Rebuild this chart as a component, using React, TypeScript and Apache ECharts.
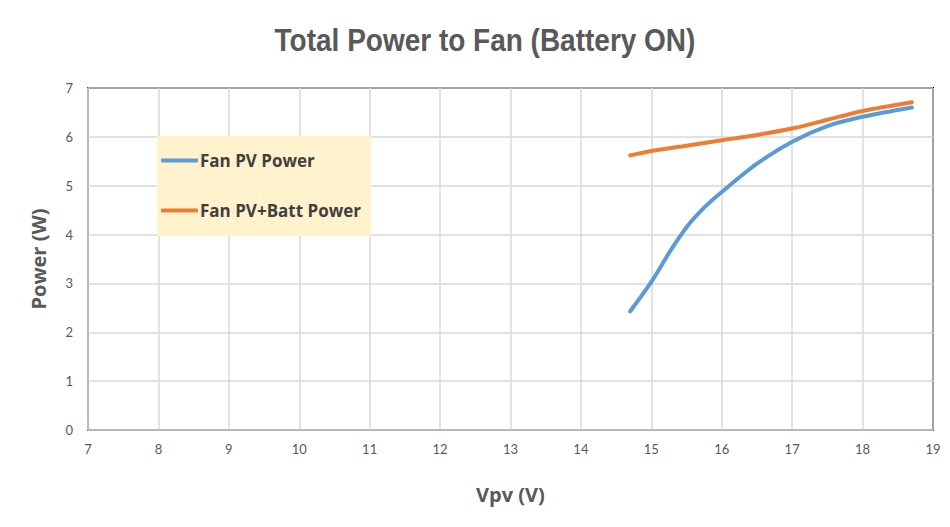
import React, { useEffect, useRef } from "react";
import * as echarts from "echarts";

const vpvPV = [14.7, 15.0, 15.25, 15.5, 15.75, 16.0, 16.5, 17.0, 17.5, 18.0, 18.7];
const fanPVPower = [2.43, 3.03, 3.62, 4.15, 4.55, 4.87, 5.45, 5.9, 6.22, 6.41, 6.6];
const vpvBatt = [14.7, 15.0, 15.5, 16.0, 16.5, 17.0, 17.5, 18.0, 18.7];
const fanPVBattPower = [5.62, 5.71, 5.82, 5.93, 6.04, 6.17, 6.35, 6.53, 6.71];
const seriesNames = ["Fan PV Power", "Fan PV+Batt Power"];
const titleText = "Total Power to Fan (Battery ON)";

const labelFont = "Lato, 'Open Sans', sans-serif";
const boldFont = "'Open Sans', Lato, sans-serif";

export default function App() {
  const ref = useRef<HTMLDivElement>(null);
  useEffect(() => {
    if (!ref.current) return;
    const chart = echarts.init(ref.current, undefined, { renderer: "svg" });
    chart.setOption({
      animation: false,
      backgroundColor: "#ffffff",
      graphic: [
        {
          type: "text",
          x: 485,
          y: 39.5,
          scaleX: 0.875,
          style: {
            text: titleText,
            fontFamily: "'Liberation Sans', Arial, sans-serif",
            fontWeight: "bold",
            fontSize: 32,
            fill: "#595959",
            align: "center",
            verticalAlign: "middle",
          },
        },
      ],
      legend: {
        orient: "vertical",
        left: 157,
        top: 136,
        backgroundColor: "#FFF2CC",
        padding: [16, 10, 17, 4],
        itemGap: 33,
        itemWidth: 37,
        itemHeight: 4,
        icon: "roundRect",
        data: seriesNames,
        textStyle: {
          fontFamily: boldFont,
          fontWeight: "bold",
          fontSize: 17,
          color: "#404040",
          padding: [0, 0, 0, -3],
        },
      },
      grid: {
        left: 88,
        right: 17,
        top: 88,
        bottom: 97,
        show: true,
        borderColor: "#000000",
        borderWidth: 2,
      },
      xAxis: {
        type: "value",
        min: 7,
        max: 19,
        interval: 1,
        name: "Vpv (V)",
        nameLocation: "middle",
        nameGap: 54,
        nameTextStyle: {
          fontFamily: boldFont,
          fontWeight: "bold",
          fontSize: 20,
          color: "#595959",
        },
        axisLine: { show: true, onZero: false, lineStyle: { color: "#bfbfbf", width: 1.5 } },
        axisTick: { show: false },
        axisLabel: {
          margin: 12,
          fontFamily: labelFont,
          fontSize: 13,
          color: "#595959",
        },
        splitLine: { show: true, lineStyle: { color: "#d9d9d9", width: 1.5 } },
      },
      yAxis: {
        type: "value",
        min: 0,
        max: 7,
        interval: 1,
        name: "Power (W)",
        nameLocation: "middle",
        nameGap: 40,
        nameTextStyle: {
          fontFamily: boldFont,
          fontWeight: "bold",
          fontSize: 20,
          color: "#595959",
        },
        axisLine: { show: true, lineStyle: { color: "#bfbfbf", width: 1.5 } },
        axisTick: { show: false },
        axisLabel: {
          margin: 15,
          fontFamily: labelFont,
          fontSize: 13,
          color: "#595959",
        },
        splitLine: { show: true, lineStyle: { color: "#d9d9d9", width: 1.5 } },
      },
      series: [
        {
          name: seriesNames[0],
          type: "line",
          smooth: 0.3,
          showSymbol: false,
          data: vpvPV.map((x, i) => [x, fanPVPower[i]]),
          lineStyle: { color: "#5B9BD5", width: 4, cap: "round" },
          itemStyle: { color: "#5B9BD5" },
        },
        {
          name: seriesNames[1],
          type: "line",
          smooth: 0.3,
          showSymbol: false,
          data: vpvBatt.map((x, i) => [x, fanPVBattPower[i]]),
          lineStyle: { color: "#ED7D31", width: 4, cap: "round" },
          itemStyle: { color: "#ED7D31" },
        },
      ],
    });
    return () => chart.dispose();
  }, []);
  return <div ref={ref} style={{ width: 950, height: 527, position: "fixed", left: 0, top: 0 }} />;
}
